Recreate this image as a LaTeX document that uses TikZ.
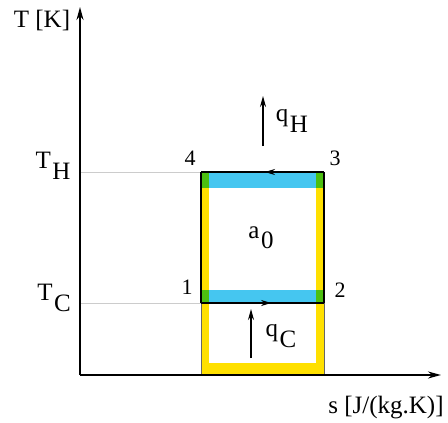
\documentclass[tikz,border=0pt]{standalone}
\usepackage{fontspec}
\setmainfont{Liberation Serif}
\usetikzlibrary{arrows.meta,decorations.markings}
\newcommand\lowsub[1]{\hspace{0.06em}\raisebox{-0.42em}{#1}}
\definecolor{yel}{HTML}{FFE000}
\definecolor{cyb}{HTML}{45C6F0}
\definecolor{grn}{HTML}{4CBF10}
\tikzset{
  lbl/.style={font=\fontsize{25}{28}\selectfont, inner sep=0pt},
  num/.style={font=\fontsize{22}{26}\selectfont, inner sep=0pt},
  axis/.style={line width=1.6pt, -{Stealth[length=13pt,width=7pt]}},
  guide/.style={draw=black!20, line width=0.8pt},
  cyc/.style={line width=1.8pt},
  heat/.style={line width=1.4pt, -{Stealth[length=11pt,width=6pt]}},
  midarrow/.style={postaction={decorate}, decoration={markings,
     mark=at position #1 with {\arrow{Stealth[length=10pt,width=6pt]}}}}
}
\begin{document}
\begin{tikzpicture}[x=1pt,y=-1pt]
\useasboundingbox (0,0) rectangle (448,423);
% coordinates
\coordinate (O) at (80,375);
\coordinate (Ytop) at (80,7);
\coordinate (Xend) at (441,375);
\coordinate (p1) at (201,303);
\coordinate (p2) at (324,303);
\coordinate (p3) at (324,172);
\coordinate (p4) at (201,172);
\coordinate (yH) at (80,172);
\coordinate (yC) at (80,303);
% yellow frame
\fill[yel] (201,188) rectangle (209,374);
\fill[yel] (316,188) rectangle (324,374);
\fill[yel] (201,363) rectangle (324,374);
\draw[black!60, line width=0.5pt] (201,303) -- (201,374) (324,303) -- (324,374);
% cyan bands
\fill[cyb] (201,172) rectangle (324,188);
\fill[cyb] (201,290) rectangle (324,303);
% green corners
\fill[grn] (201,172) rectangle (209,188);
\fill[grn] (316,172) rectangle (324,188);
\fill[grn] (201,290) rectangle (209,303);
\fill[grn] (316,290) rectangle (324,303);
% guides
\draw[guide] (yH) -- (p4);
\draw[guide] (yC) -- (p1);
% cycle
\draw[cyc, midarrow=0.57] (p1) -- (p2);
\draw[cyc] (p2) -- (p3);
\draw[cyc, midarrow=0.48] (p3) -- (p4);
\draw[cyc] (p4) -- (p1);
% axes
\draw[axis] (O) -- (Ytop);
\draw[axis] (O) -- (Xend);
% heat arrows
\coordinate (qHs) at (263,146);
\coordinate (qHe) at (263,96);
\coordinate (qCs) at (251,358);
\coordinate (qCe) at (251,309);
\draw[heat] (qHs) -- (qHe);
\draw[heat] (qCs) -- (qCe);
% labels
\node[lbl] (TK) at (42,20) {T [K]};
\node[lbl] (sx) at (386,408) {s [J/(kg.K)]};
\node[lbl] (TH) at (53,166) {T\lowsub{H}};
\node[lbl] (TC) at (54,298) {T\lowsub{C}};
\node[num] (n4) at (190,158) {4};
\node[num] (n3) at (335,158) {3};
\node[num] (n1) at (187,287) {1};
\node[num] (n2) at (340,290) {2};
\node[lbl] (qH) at (292,121) {q\lowsub{H}};
\node[lbl] (qC) at (281,336) {q\lowsub{C}};
\node[lbl] (a0) at (261,238) {a\lowsub{0}};
\end{tikzpicture}
\end{document}
